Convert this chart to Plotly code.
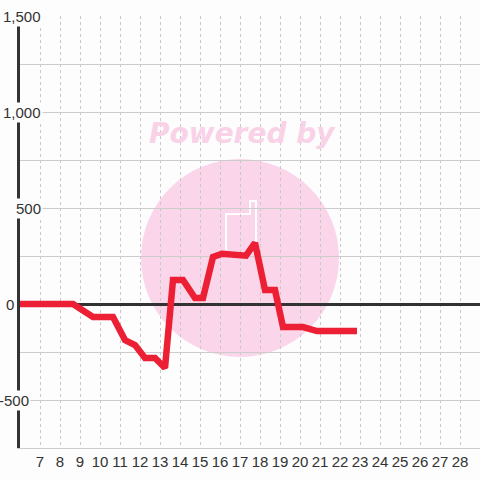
import plotly.graph_objects as go

# series
hours = [6, 8.65, 9.65, 10.65, 11.25, 11.75, 12.25, 12.75, 13.25, 13.65, 14.15,
         14.75, 15.15, 15.65, 16.1, 17.0, 17.3, 17.75, 18.25, 18.75, 19.15,
         20.15, 20.85, 22.85]
values = [0, 0, -68, -68, -188, -214, -281, -281, -333, 125, 125,
          31, 31, 245, 262, 250, 252, 318, 73, 73, -120,
          -120, -141, -141]

x_ticks = list(range(7, 29))
y_ticks = [-500, 0, 500, 1000, 1500]
y_labels = ['-500', '0', '500', '1,000', '1,500']
y_label_right = [31, 16, 43, 43, 43]  # pixel where each label ends

bg = '#fcfdfc'
ink = '#333333'

W, H = 480, 480
L, T, B = 20, 16, 32
plot_w, plot_h = W - L, H - T - B


def px_x(px):
    return (px - L) / plot_w


def px_y(py):
    return (H - B - py) / plot_h


fig = go.Figure()

fig.add_trace(go.Scatter(x=hours, y=values, mode='lines',
                         line=dict(color='#ec1f35', width=6.5),
                         hoverinfo='skip', showlegend=False))

# watermark
fig.add_shape(type='circle', xref='paper', yref='paper', layer='below',
              x0=px_x(141), x1=px_x(339), y0=px_y(357), y1=px_y(159),
              fillcolor='#fbd6ea', line=dict(width=0))
fig.add_shape(type='path', xref='paper', yref='paper', layer='below',
              path=f'M {px_x(226)},{px_y(250)} L {px_x(226)},{px_y(214)} '
                   f'L {px_x(250)},{px_y(214)} L {px_x(250)},{px_y(201)} '
                   f'L {px_x(256)},{px_y(201)} L {px_x(256)},{px_y(250)}',
              line=dict(color='white', width=2))
fig.add_annotation(text='<b><i>Powered by</i></b>', xref='paper', yref='paper',
                   x=px_x(242), y=px_y(133), yanchor='middle', showarrow=False,
                   font=dict(family='DejaVu Sans', size=28, color='#fad2e8'))

# y labels with a background patch so they cut the axis line
for v, lab, xr in zip(y_ticks, y_labels, y_label_right):
    fig.add_annotation(text=lab, x=px_x(xr), y=v, xref='paper', yref='y',
                       showarrow=False, xanchor='right', yanchor='middle',
                       bgcolor=bg, borderpad=1,
                       font=dict(family='Liberation Sans', size=15, color=ink))

fig.update_layout(
    width=W, height=H,
    margin=dict(l=L, r=0, t=T, b=B),
    paper_bgcolor=bg, plot_bgcolor=bg,
    font=dict(family='Liberation Sans', size=15, color=ink),
    xaxis=dict(range=[6, 29], tickvals=x_ticks, showgrid=True,
               gridcolor='#c8c8c8', griddash='3px,3px', gridwidth=1,
               showline=True, linecolor='#cccccc', linewidth=1,
               zeroline=False, ticks='', fixedrange=True, automargin=False),
    yaxis=dict(range=[-750, 1500], dtick=250, showticklabels=False,
               showgrid=True, gridcolor='#cccccc', gridwidth=1,
               zeroline=True, zerolinecolor=ink, zerolinewidth=3,
               showline=True, linecolor=ink, linewidth=3, ticks='',
               fixedrange=True, automargin=False),
)

# drop the default 8px page margin so the figure fills the window
fig.write_html('out.html', config={'displayModeBar': False},
               post_script="document.body.style.margin='0';")
